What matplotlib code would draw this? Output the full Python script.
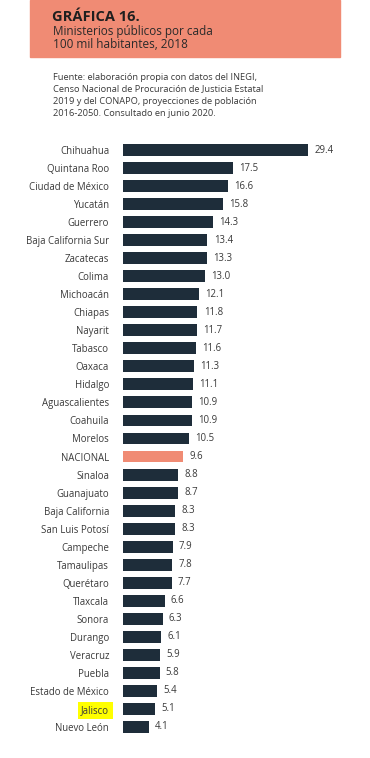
import matplotlib.pyplot as plt
from matplotlib.patches import Rectangle

# data
estados = [
    "Chihuahua", "Quintana Roo", "Ciudad de México", "Yucatán", "Guerrero",
    "Baja California Sur", "Zacatecas", "Colima", "Michoacán", "Chiapas",
    "Nayarit", "Tabasco", "Oaxaca", "Hidalgo", "Aguascalientes", "Coahuila",
    "Morelos", "NACIONAL", "Sinaloa", "Guanajuato", "Baja California",
    "San Luis Potosí", "Campeche", "Tamaulipas", "Querétaro", "Tlaxcala",
    "Sonora", "Durango", "Veracruz", "Puebla", "Estado de México", "Jalisco",
    "Nuevo León",
]
valores = [
    29.4, 17.5, 16.6, 15.8, 14.3, 13.4, 13.3, 13.0, 12.1, 11.8, 11.7, 11.6,
    11.3, 11.1, 10.9, 10.9, 10.5, 9.6, 8.8, 8.7, 8.3, 8.3, 7.9, 7.8, 7.7,
    6.6, 6.3, 6.1, 5.9, 5.8, 5.4, 5.1, 4.1,
]
resaltado = "NACIONAL"
marcado = "Jalisco"

NAVY = "#1e2d3a"
SALMON = "#f08b74"
GRIS = "#3a3a3a"

plt.rcParams["font.family"] = ["Open Sans", "DejaVu Sans"]

W, H = 370, 758
fig = plt.figure(figsize=(W / 100, H / 100), dpi=100)

# header box
fig.patches.append(Rectangle((30 / W, 1 - 57 / H), 310 / W, 57 / H,
                             transform=fig.transFigure, color=SALMON, zorder=0))
fig.text(52 / W, 1 - 17 / H, "GRÁFICA 16.", fontsize=10.5, fontweight="bold",
         color="#1f1f1f", va="center")
fig.text(53 / W, 1 - 38 / H, "Ministerios públicos por cada\n100 mil habitantes, 2018",
         fontsize=8.5, color="#2a2a2a", va="center", linespacing=1.0)

# source note, one text per line to keep the line pitch even
fuente = [
    "Fuente: elaboración propia con datos del INEGI,",
    "Censo Nacional de Procuración de Justicia Estatal",
    "2019 y del CONAPO, proyecciones de población",
    "2016-2050. Consultado en junio 2020.",
]
for i, linea in enumerate(fuente):
    fig.text(53 / W, 1 - (77 + 12 * i) / H, linea, fontsize=6.7, color=GRIS, va="center")

# bars
top, bottom = 141, 736
ax = fig.add_axes([123 / W, 1 - bottom / H, (340 - 123) / W, (bottom - top) / H])
ys = list(range(len(estados)))
colores = [SALMON if e == resaltado else NAVY for e in estados]
ax.barh(ys, valores, height=0.66, color=colores)
ax.set_ylim(len(estados) - 0.5, -0.5)
ax.set_xlim(0, (340 - 123) / 6.3)

for y, v in zip(ys, valores):
    ax.text(v + 1.0, y, f"{v:.1f}", va="center", ha="left", fontsize=6.9, color=GRIS)

ax.set_yticks(ys)
ax.set_yticklabels(estados, fontsize=6.9, color=GRIS)
ax.tick_params(axis="y", length=0, pad=10)
ax.set_xticks([])
for s in ax.spines.values():
    s.set_visible(False)

for lbl in ax.get_yticklabels():
    if lbl.get_text() == marcado:
        lbl.set_bbox(dict(facecolor="#ffff00", edgecolor="none", pad=2.5))

fig.savefig("out.png", dpi=100)
